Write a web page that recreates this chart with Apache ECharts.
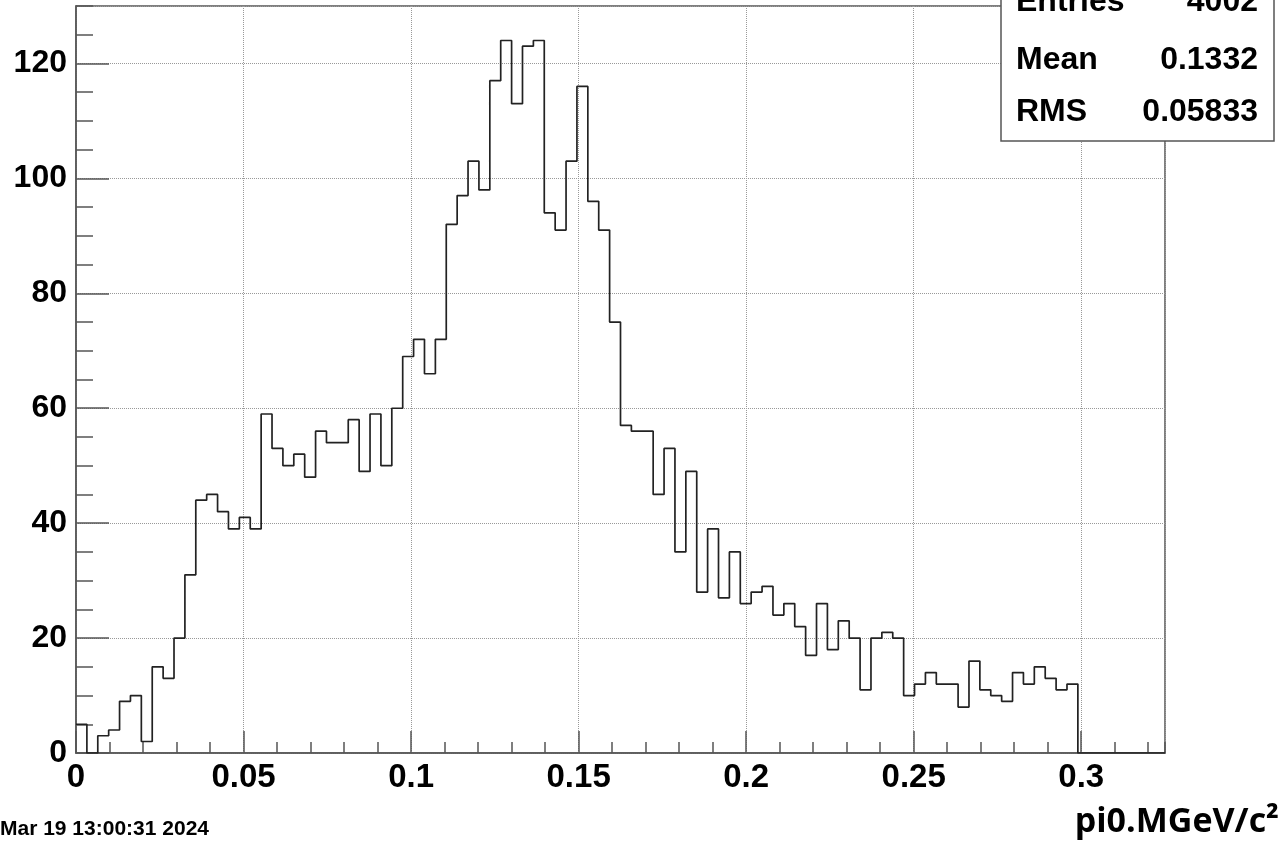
<!DOCTYPE html>
<html>
<head>
<meta charset="utf-8">
<script src="https://cdn.jsdelivr.net/npm/echarts@6/dist/echarts.min.js"></script>
<style>
  html, body { margin: 0; padding: 0; background: #fff; }
  #chart { width: 1287px; height: 842px; }
</style>
</head>
<body>
<div id="chart"></div>
<script>
// ---- data ----
const binWidth = 0.00325;   // 100 bins over [0, 0.325]
const counts = [
  5, 0, 3, 4, 9, 10, 2, 15, 13, 20,
  31, 44, 45, 42, 39, 41, 39, 59, 53, 50,
  52, 48, 56, 54, 54, 58, 49, 59, 50, 60,
  69, 72, 66, 72, 92, 97, 103, 98, 117, 124,
  113, 123, 124, 94, 91, 103, 116, 96, 91, 75,
  57, 56, 56, 45, 53, 35, 49, 28, 39, 27,
  35, 26, 28, 29, 24, 26, 22, 17, 26, 18,
  23, 20, 11, 20, 21, 20, 10, 12, 14, 12,
  12, 8, 16, 11, 10, 9, 14, 12, 15, 13,
  11, 12, 0, 0, 0, 0, 0, 0, 0, 0
];
const xRange = [0, 0.325];
const yRange = [0, 130];
const xMajorStep = 0.05;
const xMinorStep = 0.01;
const yMajorStep = 20;
const yMinorStep = 5;
const statsLabels = ['Entries', 'Mean', 'RMS'];
const statsValues = ['4002', '0.1332', '0.05833'];
const xTitle = 'pi0.MGeV/c\u00B2';
const dateText = 'Mar 19 13:00:31 2024';

// ---- build step outline from bin edges ----
const stepData = counts.map((c, i) => [i * binWidth, c]);
stepData.push([counts.length * binWidth, 0]);

const labelFont = 'Liberation Sans, Arial, Helvetica, sans-serif';
const axisColor = '#555';

const chart = echarts.init(document.getElementById('chart'), null, { renderer: 'canvas' });

const statsRowsY = [2, 60, 112];
const statsGraphics = [];
statsGraphics.push({
  type: 'rect', z: 100,
  shape: { x: 1001, y: -40, width: 273, height: 181 },
  style: { fill: '#fff', stroke: axisColor, lineWidth: 1.5 }
});
statsLabels.forEach((lab, i) => {
  statsGraphics.push({
    type: 'text', z: 101, x: 1016, y: statsRowsY[i],
    style: { text: lab, font: 'bold 32px ' + labelFont, fill: '#000', align: 'left', verticalAlign: 'middle' }
  });
  statsGraphics.push({
    type: 'text', z: 101, x: 1258, y: statsRowsY[i],
    style: { text: statsValues[i], font: 'bold 32px ' + labelFont, fill: '#000', align: 'right', verticalAlign: 'middle' }
  });
});

const option = {
  animation: false,
  backgroundColor: '#fff',
  grid: {
    left: 76, right: 122, top: 6, bottom: 89,
    show: true, borderColor: axisColor, borderWidth: 1.5, backgroundColor: 'transparent'
  },
  xAxis: [
    {
      type: 'value', min: xRange[0], max: xRange[1], interval: xMajorStep,
      position: 'bottom',
      axisLine: { show: true, onZero: false, lineStyle: { color: axisColor, width: 1.5 } },
      axisTick: { show: true, inside: true, length: 22, lineStyle: { color: axisColor, width: 1.5 } },
      axisLabel: {
        show: true, showMaxLabel: false, margin: 8,
        fontSize: 33, fontWeight: 'bold', fontFamily: labelFont, color: '#000'
      },
      splitLine: { show: true, lineStyle: { color: '#999', type: 'dotted', width: 1 } }
    },
    {
      type: 'value', min: xRange[0], max: xRange[1], interval: xMinorStep,
      position: 'bottom', offset: 0,
      axisLine: { show: false },
      axisTick: { show: true, inside: true, length: 11, lineStyle: { color: axisColor, width: 1.5 } },
      axisLabel: { show: false },
      splitLine: { show: false }
    }
  ],
  yAxis: [
    {
      type: 'value', min: yRange[0], max: yRange[1], interval: yMajorStep,
      position: 'left',
      axisLine: { show: true, onZero: false, lineStyle: { color: axisColor, width: 1.5 } },
      axisTick: { show: true, inside: true, length: 33, lineStyle: { color: axisColor, width: 1.5 } },
      axisLabel: {
        show: true, showMaxLabel: false, margin: 9,
        fontSize: 32, fontWeight: 'bold', fontFamily: labelFont, color: '#000'
      },
      splitLine: { show: true, lineStyle: { color: '#999', type: 'dotted', width: 1 } }
    },
    {
      type: 'value', min: yRange[0], max: yRange[1], interval: yMinorStep,
      position: 'left', offset: 0,
      axisLine: { show: false },
      axisTick: { show: true, inside: true, length: 17, lineStyle: { color: axisColor, width: 1.5 } },
      axisLabel: { show: false },
      splitLine: { show: false }
    }
  ],
  series: [
    {
      type: 'line', xAxisIndex: 0, yAxisIndex: 0,
      data: stepData, step: 'end',
      showSymbol: false, symbol: 'none',
      lineStyle: { color: '#222', width: 1.7 },
      clip: true, z: 5
    }
  ],
  graphic: [
    ...statsGraphics,
    {
      type: 'text', x: 0, y: 829,
      style: { text: dateText, font: 'bold 21px ' + labelFont, fill: '#000', align: 'left', verticalAlign: 'middle' }
    },
    {
      type: 'text', x: 1279, y: 822,
      style: { text: xTitle, font: 'bold 34px "Open Sans", "Noto Sans", sans-serif', fill: '#000', align: 'right', verticalAlign: 'middle' }
    }
  ]
};

chart.setOption(option);
</script>
</body>
</html>
